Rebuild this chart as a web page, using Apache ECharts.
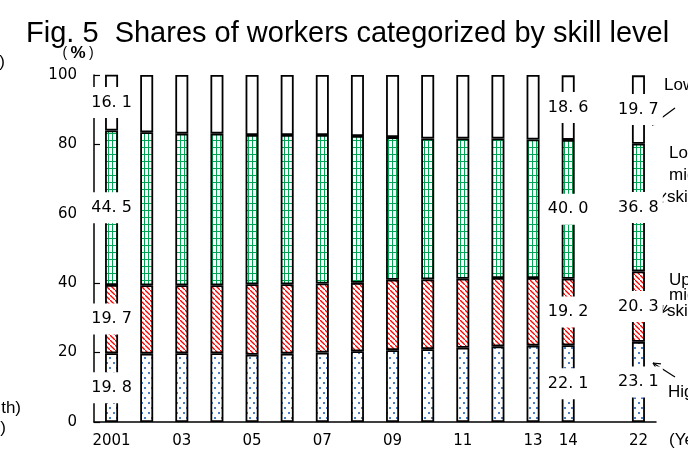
<!DOCTYPE html>
<html>
<head>
<meta charset="utf-8">
<script src="https://cdn.jsdelivr.net/npm/echarts@6/dist/echarts.min.js"></script>
<style>
  html, body { margin: 0; padding: 0; background: #fff; }
  #chart { width: 688px; height: 454px; }
</style>
</head>
<body>
<div id="chart"></div>
<script>
// 年（14年と22年の間は空き）
var categories = ['2001', '02', '03', '04', '05', '06', '07', '08', '09', '10', '11', '12', '13', '14', '', '22'];
var tickLabels = ['2001', '', '03', '', '05', '', '07', '', '09', '', '11', '', '13', '14', '', '22'];
// 各スキル層の割合（%）
var highSkill = [19.8, 19.7, 19.8, 19.8, 19.4, 19.7, 20.0, 20.4, 20.7, 21.0, 21.4, 21.8, 22.0, 22.1, null, 23.1];
var upperMiddle = [19.7, 19.7, 19.6, 19.6, 20.3, 20.0, 19.9, 19.7, 20.3, 20.1, 19.9, 19.7, 19.5, 19.2, null, 20.3];
var lowerMiddle = [44.5, 44.1, 43.7, 43.7, 43.0, 43.0, 42.8, 42.3, 41.1, 40.6, 40.4, 40.2, 39.9, 40.0, null, 36.8];
var lowSkill = [16.1, 16.5, 16.9, 16.9, 17.3, 17.3, 17.3, 17.6, 17.9, 18.3, 18.3, 18.3, 18.6, 18.6, null, 19.7];
var yTicks = [0, 20, 40, 60, 80, 100];
// 数値ラベルを出す年
var labelYears = ['2001', '14', '22'];

// 模様（キャンバスで作る）
function makeTile(w, h, draw) {
  var c = document.createElement('canvas');
  c.width = w;
  c.height = h;
  var ctx = c.getContext('2d');
  ctx.fillStyle = '#fff';
  ctx.fillRect(0, 0, w, h);
  draw(ctx);
  return { image: c, repeat: 'repeat' };
}
// 高スキル：青い点
var dotFill = makeTile(7, 10, function (ctx) {
  ctx.fillStyle = '#4a7fc8';
  ctx.fillRect(1, 2, 2, 2);
  ctx.fillRect(4, 7, 2, 2);
});
// 中高スキル：赤い斜線
var hatchFill = makeTile(5, 5, function (ctx) {
  ctx.strokeStyle = '#ff0000';
  ctx.lineWidth = 1.3;
  ctx.beginPath();
  ctx.moveTo(-1, -1);
  ctx.lineTo(6, 6);
  ctx.stroke();
});
// 中低スキル：緑の格子
var gridFill = makeTile(4, 7, function (ctx) {
  ctx.strokeStyle = '#00a651';
  ctx.lineWidth = 1;
  ctx.beginPath();
  ctx.moveTo(0.5, 0);
  ctx.lineTo(0.5, 7);
  ctx.moveTo(0, 0.5);
  ctx.lineTo(4, 0.5);
  ctx.stroke();
});

function withLabels(arr) {
  return arr.map(function (v, i) {
    return { value: v, label: { show: labelYears.indexOf(categories[i]) >= 0 } };
  });
}

function barSeries(name, arr, fill) {
  return {
    name: name,
    type: 'bar',
    stack: 'total',
    barWidth: 13,
    data: withLabels(arr),
    itemStyle: {
      color: fill,
      borderColor: '#000',
      borderWidth: 1.8
    },
    label: {
      show: false,
      position: 'inside',
      // 元の図は全角ピリオドなので「. 」で近づける
      formatter: function (p) {
        return p.value.toFixed(1).replace('.', '. ');
      },
      fontFamily: 'DejaVu Sans',
      fontSize: 16,
      color: '#000',
      backgroundColor: '#fff',
      padding: [8, 4, 7, 4]
    }
  };
}

// 矢印（開いた矢じり）
function arrow(x1, y1, x2, y2) {
  var ang = Math.atan2(y2 - y1, x2 - x1);
  var len = 8, spread = 0.45;
  var style = { stroke: '#000', lineWidth: 1.2 };
  return {
    type: 'group',
    children: [
      { type: 'line', shape: { x1: x1, y1: y1, x2: x2, y2: y2 }, style: style },
      { type: 'line', shape: { x1: x2, y1: y2, x2: x2 - len * Math.cos(ang - spread), y2: y2 - len * Math.sin(ang - spread) }, style: style },
      { type: 'line', shape: { x1: x2, y1: y2, x2: x2 - len * Math.cos(ang + spread), y2: y2 - len * Math.sin(ang + spread) }, style: style }
    ]
  };
}

function note(text, x, y) {
  return {
    type: 'text', x: x, y: y,
    style: { text: text, font: '17px "Liberation Sans"', fill: '#000', verticalAlign: 'middle' }
  };
}

var myChart = echarts.init(document.getElementById('chart'));
var option = {
  animation: false,
  grid: { left: 94, right: 32, top: 75, bottom: 32 },
  xAxis: {
    type: 'category',
    data: categories,
    axisLine: { lineStyle: { color: '#000', width: 1.5 } },
    axisTick: { show: false },
    axisLabel: {
      interval: 0,
      margin: 12,
      color: '#000',
      fontFamily: 'DejaVu Sans',
      fontSize: 15,
      formatter: function (v, i) { return tickLabels[i]; }
    }
  },
  yAxis: {
    type: 'value',
    min: yTicks[0],
    max: yTicks[yTicks.length - 1],
    interval: yTicks[1] - yTicks[0],
    axisLine: { show: true, lineStyle: { color: '#000', width: 1.5 } },
    axisTick: { show: true, inside: true, length: 6, lineStyle: { color: '#000', width: 1.2 } },
    splitLine: { show: false },
    axisLabel: { margin: 17, color: '#000', fontFamily: 'DejaVu Sans', fontSize: 15 }
  },
  series: [
    barSeries('High-skill', highSkill, dotFill),
    barSeries('Upper-middle-skill', upperMiddle, hatchFill),
    barSeries('Lower-middle-skill', lowerMiddle, gridFill),
    barSeries('Low-skill', lowSkill, '#fff')
  ],
  graphic: [
    {
      type: 'text', left: 26, top: 19,
      style: { text: 'Fig. 5  Shares of workers categorized by skill level', font: '29px "Liberation Sans"', fill: '#000' }
    },
    {
      type: 'text', x: 78, y: 53,
      style: {
        text: '{p|(} {b|%} {p|)}',
        align: 'center',
        verticalAlign: 'middle',
        rich: {
          p: { fontFamily: 'Liberation Sans', fontSize: 14, fill: '#000' },
          b: { fontFamily: 'Liberation Sans', fontSize: 17, fontWeight: 'bold', fill: '#000' }
        }
      }
    },
    // 左端で切れている文字
    { type: 'text', x: 5, y: 62, style: { text: ')', font: '17px "Liberation Sans"', fill: '#000', align: 'right', verticalAlign: 'middle' } },
    { type: 'text', x: 21, y: 408, style: { text: 'th)', font: '17px "Liberation Sans"', fill: '#000', align: 'right', verticalAlign: 'middle' } },
    { type: 'text', x: 6, y: 428, style: { text: ')', font: '17px "Liberation Sans"', fill: '#000', align: 'right', verticalAlign: 'middle' } },
    // 右側の注記
    { type: 'text', x: 669, y: 440, style: { text: '(Year)', font: '17px "Liberation Sans"', fill: '#000', verticalAlign: 'middle' } },
    note('Low-skill', 664, 85),
    arrow(675, 108, 652, 125),
    note('Lower-', 669, 153),
    note('middle-', 669, 175),
    note('skill', 667, 197),
    arrow(666, 193, 656, 205),
    note('Upper-', 669, 280),
    note('middle-', 669, 295),
    note('skill', 667, 311),
    arrow(667, 305, 662, 313),
    note('High-skill', 668, 392),
    arrow(675, 377, 653, 363)
  ]
};
myChart.setOption(option);
window.addEventListener('resize', function () {
  myChart.resize();
});
</script>
</body>
</html>
